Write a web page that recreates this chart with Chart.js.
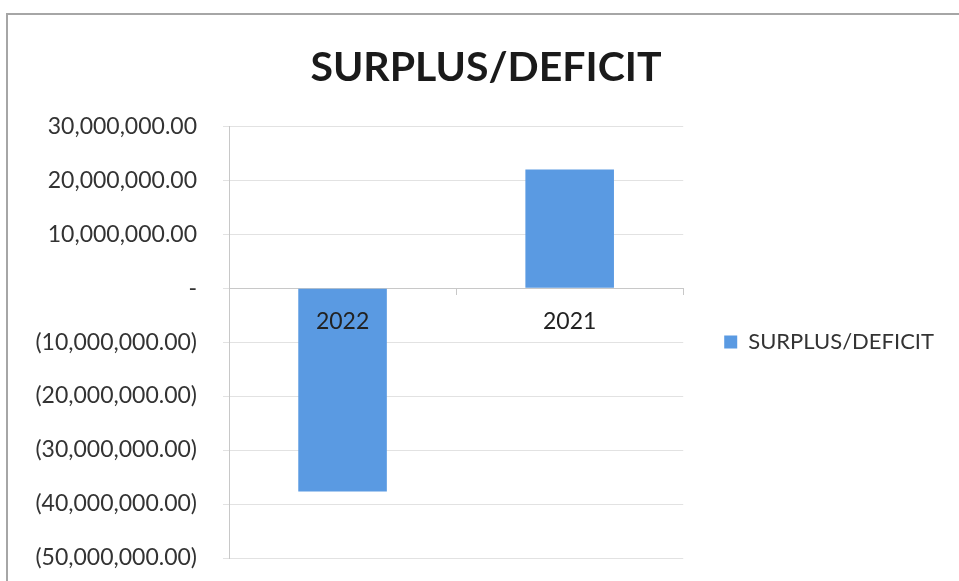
<!DOCTYPE html>
<html>
<head>
<meta charset="utf-8">
<script src="https://cdn.jsdelivr.net/npm/chart.js@4"></script>
<style>
  body { margin: 0; background: #ffffff; }
  #frame { position: absolute; left: 6px; top: 13px; width: 953px; height: 568px; border-top: 2px solid #a6a6a6; border-left: 2px solid #a6a6a6; }
  #wrap { position: absolute; left: 0; top: 0; width: 959px; height: 581px; }
</style>
</head>
<body>
<div id="frame"></div>
<div id="wrap"><canvas id="meuGrafico"></canvas></div>
<script>
const anos = ["2022", "2021"];
const saldo = [-37700000, 22000000];
const tituloSerie = "SURPLUS/DEFICIT";

function formatarValor(valor) {
  if (valor === 0) {
    return "-";
  }
  const texto = Math.abs(valor).toLocaleString("en-US", { minimumFractionDigits: 2, maximumFractionDigits: 2 });
  if (valor < 0) {
    return "(" + texto + ")";
  }
  return texto;
}

const ctx = document.getElementById("meuGrafico").getContext("2d");
const meuGrafico = new Chart(ctx, {
  type: "bar",
  data: {
    labels: anos,
    datasets: [
      {
        label: tituloSerie,
        data: saldo,
        backgroundColor: "#5a9ae2",
        borderWidth: 0,
        categoryPercentage: 1,
        barPercentage: 0.39,
      },
    ],
  },
  options: {
    responsive: true,
    maintainAspectRatio: false,
    animation: false,
    layout: {
      padding: { left: 28, right: 15, top: 43, bottom: 23 },
    },
    plugins: {
      title: {
        display: true,
        text: "SURPLUS/DEFICIT",
        color: "#1a1a1a",
        font: { family: "Lato", size: 41, weight: "bold" },
        padding: { top: 0, bottom: 34 },
      },
      legend: {
        position: "right",
        fullSize: false,
        maxWidth: 320,
        labels: {
          color: "#333333",
          font: { family: "Lato", size: 22 },
          boxWidth: 13,
          boxHeight: 13,
          padding: 41,
        },
      },
      tooltip: { enabled: false },
    },
    scales: {
      x: {
        position: { y: 0 },
        afterFit: (escala) => {
          escala.height = 0;
        },
        grid: {
          offset: true,
          drawOnChartArea: false,
          color: "#c8c8c8",
          tickLength: 6,
        },
        border: { color: "#c8c8c8" },
        ticks: {
          z: 1,
          color: "#222222",
          font: { family: "Lato", size: 23 },
          padding: 14,
        },
      },
      y: {
        min: -50000000,
        max: 30000000,
        afterFit: (escala) => {
          escala.width = 201;
          escala.paddingBottom = 0;
        },
        grid: {
          color: "#e2e2e2",
          tickLength: 6,
        },
        border: { color: "#c8c8c8" },
        ticks: {
          stepSize: 10000000,
          color: "#333333",
          font: { family: "Lato", size: 23 },
          padding: 26,
          callback: (valor) => formatarValor(valor),
        },
      },
    },
  },
});
</script>
</body>
</html>
